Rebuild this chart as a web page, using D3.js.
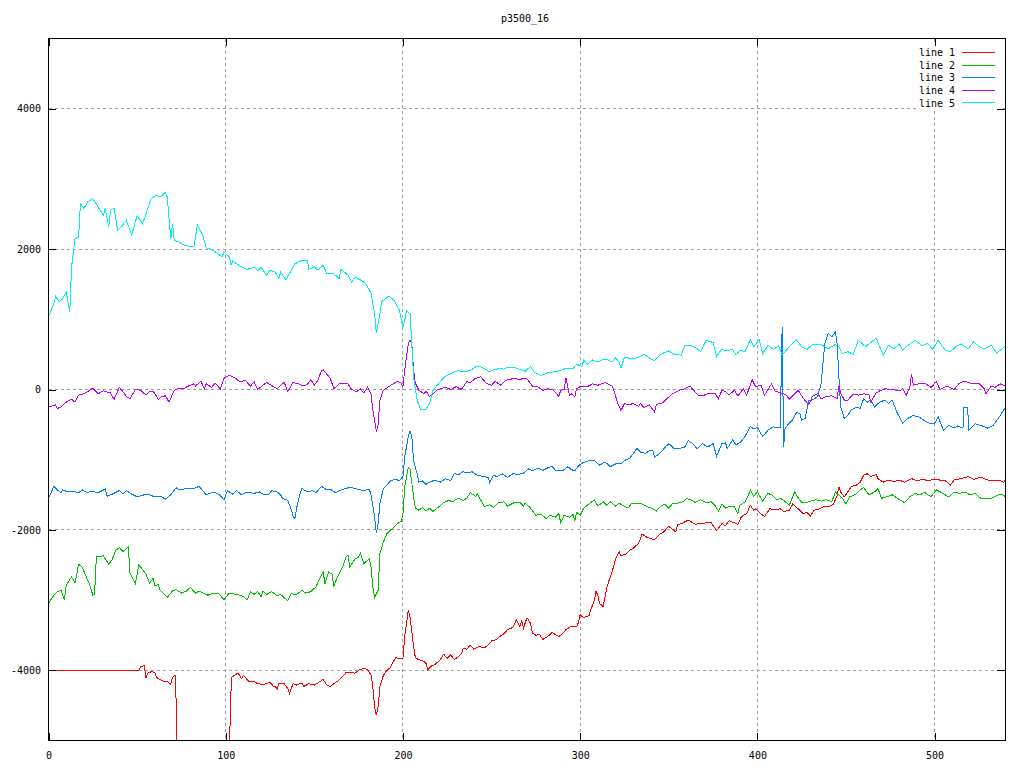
<!DOCTYPE html>
<html><head><meta charset="utf-8">
<script src="https://cdn.jsdelivr.net/npm/d3@7"></script>
<style>
body{margin:0;background:#fff}
svg{display:block}
text{font-family:"DejaVu Sans Mono",monospace;font-size:10px;fill:#000}
</style></head>
<body><svg id="c" width="1024" height="768"></svg>
<script>
const title = "p3500_16";
const xTicks = [0,100,200,300,400,500];
const yTicks = [-4000,-2000,0,2000,4000];
const seriesNames = ["line 1","line 2","line 3","line 4","line 5"];
const seriesColors = ["#ff0000","#00c000","#0080ff","#c000ff","#00eeee"];

const line1 = [[0,-4000],[51,-4000],[52,-3950],[54,-3930],[55,-4110],[56,-4040],[58,-4020],[60,-4030],[61,-4100],[64,-4150],[67,-4160],[69,-4200],[70,-4100],[71.4,-4070],[72.3,-4600],[72.6,-6000],[101.3,-6000],[102.8,-4380],[103.4,-4100],[105,-4070],[107,-4040],[109,-4120],[110,-4070],[113,-4160],[116,-4160],[118,-4190],[121,-4200],[123,-4190],[125,-4170],[127,-4230],[128,-4230],[129,-4270],[130,-4190],[133,-4190],[135,-4260],[136,-4330],[138,-4190],[140,-4210],[143,-4180],[144,-4230],[147,-4190],[150,-4210],[152,-4180],[155,-4130],[157,-4210],[159,-4230],[161,-4190],[164,-4140],[166,-4090],[168,-4030],[170,-4030],[173,-4040],[175,-4000],[178,-3970],[180,-3990],[182,-4070],[183,-4230],[184,-4520],[185,-4640],[186,-4520],[187,-4230],[189,-4070],[191,-4000],[193,-3960],[194,-3900],[196,-3820],[199,-3840],[200,-3830],[201,-3520],[203,-3150],[204,-3240],[206,-3660],[207,-3820],[209,-3850],[211,-3860],[213,-3900],[214,-3990],[216,-3940],[218,-3920],[221,-3850],[223,-3770],[225,-3830],[227,-3780],[229,-3850],[231,-3810],[233,-3760],[234,-3690],[236,-3700],[238,-3640],[240,-3700],[243,-3660],[246,-3680],[249,-3620],[250,-3580],[253,-3560],[255,-3510],[257,-3480],[259,-3420],[262,-3390],[264,-3280],[266,-3380],[267,-3290],[268,-3400],[270,-3250],[272,-3330],[273,-3470],[275,-3500],[277,-3490],[279,-3560],[281,-3530],[283,-3490],[284,-3460],[286,-3490],[288,-3520],[290,-3480],[292,-3420],[295,-3370],[298,-3380],[299,-3320],[300,-3210],[302,-3250],[305,-3220],[306,-3140],[308,-3000],[309,-2870],[310,-2940],[311,-3050],[313,-3090],[315,-2830],[316,-2740],[318,-2600],[320,-2410],[322,-2310],[323,-2370],[326,-2340],[328,-2290],[330,-2260],[333,-2190],[335,-2060],[338,-2110],[342,-2140],[345,-2060],[347,-2030],[350,-1950],[352,-1990],[354,-2030],[355,-1930],[358,-1900],[361,-1860],[363,-1890],[365,-1920],[368,-1910],[371,-1900],[374,-1900],[377,-2010],[380,-1910],[382,-1940],[384,-1870],[386,-1890],[389,-1920],[391,-1810],[394,-1770],[396,-1650],[398,-1720],[399,-1700],[402,-1770],[404,-1810],[407,-1700],[410,-1710],[413,-1700],[415,-1740],[418,-1720],[420,-1630],[423,-1700],[426,-1770],[428,-1750],[430,-1800],[432,-1720],[435,-1700],[438,-1660],[441,-1660],[443,-1630],[445,-1510],[446,-1390],[447,-1460],[449,-1530],[451,-1460],[453,-1380],[456,-1360],[458,-1320],[460,-1220],[462,-1200],[464,-1240],[467,-1210],[468,-1270],[471,-1320],[474,-1290],[477,-1310],[480,-1290],[483,-1320],[487,-1270],[490,-1300],[493,-1280],[497,-1300],[499,-1280],[503,-1290],[506,-1300],[509,-1360],[511,-1290],[515,-1270],[519,-1240],[522,-1280],[526,-1250],[530,-1290],[533,-1290],[536,-1290],[539,-1320],[540,-1290]];

const line2 = [[0,-3050],[3,-2930],[5,-2880],[7,-2860],[9,-3000],[10,-2790],[13,-2670],[15,-2750],[17,-2490],[19,-2530],[22,-2710],[23,-2760],[25,-2930],[26,-2920],[27,-2380],[31,-2370],[34,-2490],[36,-2420],[38,-2290],[40,-2250],[42,-2310],[45,-2240],[46,-2620],[49,-2760],[51,-2500],[53,-2560],[55,-2630],[57,-2760],[59,-2690],[60,-2790],[62,-2780],[63,-2860],[67,-2960],[70,-2870],[72,-2850],[75,-2900],[78,-2870],[80,-2820],[83,-2900],[85,-2870],[88,-2910],[90,-2930],[93,-2900],[96,-2910],[99,-2990],[102,-2900],[104,-2910],[108,-2930],[110,-2950],[112,-3000],[114,-2880],[116,-2920],[118,-2880],[120,-2950],[121,-2870],[123,-2920],[126,-2880],[129,-2940],[131,-2920],[135,-3010],[137,-2910],[140,-2920],[143,-2860],[145,-2900],[148,-2880],[151,-2810],[153,-2690],[155,-2600],[156,-2770],[158,-2600],[160,-2630],[161,-2800],[163,-2670],[165,-2570],[166,-2530],[168,-2380],[169,-2360],[170,-2530],[173,-2410],[175,-2390],[176,-2330],[178,-2480],[181,-2410],[182,-2530],[183,-2810],[184,-2960],[186,-2860],[187,-2340],[189,-2170],[191,-2050],[194,-1980],[197,-1910],[199,-1880],[200,-1770],[201,-1390],[203,-1110],[204,-1130],[206,-1530],[207,-1690],[209,-1720],[211,-1680],[213,-1730],[215,-1690],[217,-1740],[219,-1690],[221,-1660],[223,-1610],[226,-1580],[228,-1600],[231,-1550],[234,-1580],[236,-1550],[238,-1470],[241,-1520],[242,-1490],[244,-1580],[246,-1670],[249,-1640],[251,-1680],[254,-1610],[257,-1600],[259,-1660],[263,-1610],[266,-1610],[268,-1660],[269,-1620],[272,-1690],[275,-1790],[278,-1780],[281,-1840],[283,-1790],[286,-1820],[288,-1770],[289,-1900],[291,-1790],[294,-1820],[296,-1780],[297,-1870],[298,-1750],[300,-1790],[302,-1690],[305,-1630],[308,-1570],[310,-1660],[313,-1600],[315,-1650],[317,-1600],[320,-1660],[322,-1620],[324,-1650],[327,-1690],[329,-1620],[332,-1630],[335,-1630],[338,-1670],[341,-1700],[343,-1730],[346,-1650],[348,-1640],[350,-1690],[352,-1630],[355,-1620],[358,-1600],[360,-1550],[363,-1580],[365,-1610],[368,-1570],[371,-1610],[374,-1600],[376,-1650],[378,-1730],[380,-1630],[382,-1690],[385,-1660],[387,-1670],[389,-1770],[390,-1650],[393,-1600],[395,-1500],[396,-1430],[398,-1520],[400,-1460],[403,-1590],[406,-1480],[408,-1500],[411,-1570],[413,-1550],[415,-1580],[418,-1650],[421,-1460],[423,-1540],[425,-1610],[428,-1610],[430,-1590],[433,-1570],[436,-1590],[439,-1570],[442,-1600],[444,-1460],[446,-1500],[448,-1550],[450,-1630],[452,-1530],[455,-1500],[458,-1430],[460,-1400],[463,-1500],[466,-1460],[468,-1410],[470,-1550],[473,-1530],[476,-1500],[479,-1550],[483,-1610],[486,-1530],[489,-1480],[492,-1500],[494,-1460],[498,-1530],[501,-1430],[504,-1470],[508,-1530],[511,-1460],[514,-1480],[517,-1460],[520,-1500],[523,-1480],[526,-1550],[529,-1550],[532,-1550],[536,-1500],[538,-1490],[540,-1530]];

const line3 = [[0,-1550],[3,-1380],[5,-1430],[7,-1470],[8,-1430],[11,-1460],[14,-1450],[17,-1470],[19,-1430],[22,-1470],[24,-1450],[28,-1470],[32,-1420],[33,-1520],[36,-1490],[40,-1440],[42,-1490],[44,-1440],[47,-1490],[50,-1530],[54,-1500],[57,-1500],[60,-1530],[63,-1520],[66,-1560],[69,-1500],[72,-1400],[74,-1430],[78,-1410],[82,-1410],[85,-1380],[87,-1440],[89,-1500],[93,-1460],[96,-1490],[99,-1570],[101,-1440],[104,-1490],[106,-1440],[109,-1500],[112,-1460],[116,-1480],[119,-1460],[121,-1490],[124,-1500],[126,-1440],[129,-1460],[131,-1500],[132,-1550],[135,-1580],[137,-1710],[138,-1810],[139,-1840],[140,-1690],[142,-1480],[143,-1410],[146,-1460],[149,-1440],[151,-1470],[154,-1380],[157,-1430],[159,-1420],[162,-1470],[165,-1430],[168,-1410],[170,-1390],[173,-1410],[176,-1430],[178,-1440],[181,-1420],[182,-1500],[184,-1810],[185,-2050],[186,-1910],[187,-1620],[189,-1410],[191,-1360],[193,-1300],[196,-1280],[198,-1300],[200,-1240],[201,-960],[203,-670],[204,-590],[205,-670],[206,-1010],[208,-1200],[209,-1320],[211,-1300],[213,-1350],[215,-1320],[218,-1290],[221,-1320],[224,-1270],[227,-1300],[229,-1190],[231,-1220],[234,-1170],[236,-1190],[239,-1170],[242,-1220],[245,-1240],[248,-1250],[249,-1330],[251,-1220],[253,-1240],[256,-1200],[259,-1250],[262,-1200],[265,-1210],[268,-1190],[271,-1130],[273,-1160],[276,-1120],[279,-1150],[284,-1090],[286,-1150],[290,-1160],[293,-1100],[295,-1140],[297,-1160],[299,-1090],[301,-1050],[304,-1020],[308,-1010],[311,-1080],[314,-1030],[317,-1100],[320,-1060],[323,-1060],[325,-1010],[328,-980],[330,-910],[332,-840],[334,-890],[337,-910],[339,-870],[341,-870],[342,-960],[345,-910],[348,-820],[350,-770],[353,-840],[356,-840],[359,-820],[361,-730],[364,-780],[366,-850],[369,-770],[372,-820],[375,-770],[377,-950],[380,-770],[382,-760],[383,-840],[386,-720],[388,-790],[391,-740],[393,-670],[396,-530],[398,-560],[400,-540],[403,-670],[406,-580],[409,-530],[411,-550],[413,-540],[413.6,520],[414,890],[414.8,-820],[415.6,-550],[418,-480],[420,-430],[422,-330],[424,-340],[425,-440],[427,-410],[429,-150],[431,-150],[434,-100],[436,90],[438,650],[440,800],[442,750],[444,820],[445,650],[446,180],[447,-250],[449,-410],[451,-370],[453,-290],[456,-250],[458,-270],[460,-130],[462,-180],[464,-150],[466,-250],[469,-180],[472,-150],[474,-200],[476,-150],[479,-340],[482,-480],[485,-410],[488,-370],[491,-390],[494,-440],[497,-480],[500,-480],[502,-390],[505,-580],[508,-510],[511,-550],[513,-520],[516,-550],[516.6,-250],[518.6,-250],[519.3,-580],[523,-490],[527,-520],[530,-550],[533,-510],[536,-410],[539,-290],[540,-260]];

const line4 = [[0,-250],[4,-220],[5,-270],[7,-250],[10,-180],[13,-140],[15,-180],[17,-80],[20,-60],[22,-30],[25,20],[28,-60],[31,-20],[35,-50],[37,-140],[40,30],[42,-30],[44,-100],[46,-130],[49,0],[52,-10],[55,-80],[57,-30],[59,-20],[62,-140],[64,-100],[66,-90],[68,-180],[71,-10],[73,10],[76,10],[79,50],[82,80],[83,50],[86,120],[88,10],[89,80],[92,30],[94,90],[97,10],[99,160],[102,200],[105,170],[108,110],[111,130],[114,50],[116,110],[118,0],[121,60],[123,100],[127,40],[129,10],[131,60],[133,100],[135,-30],[138,100],[141,80],[144,50],[146,70],[148,140],[150,60],[152,130],[154,270],[155,280],[157,220],[159,160],[161,10],[164,80],[169,80],[171,0],[174,-30],[176,10],[178,-50],[180,30],[182,-60],[183,-290],[185,-600],[186,-500],[187,-150],[189,-10],[192,40],[195,90],[197,120],[199,90],[200,40],[201,280],[203,650],[204,710],[205,650],[206,280],[207,90],[209,-10],[212,-60],[213,-20],[215,-100],[217,-60],[219,-10],[221,10],[224,30],[227,0],[230,40],[233,0],[236,110],[238,100],[241,160],[244,180],[247,90],[250,60],[252,120],[255,60],[258,130],[263,160],[266,140],[268,160],[270,150],[273,50],[276,40],[279,-10],[282,10],[285,-10],[288,-100],[289,-10],[291,0],[292,160],[294,-80],[295,-60],[297,-100],[298,10],[300,40],[304,40],[307,80],[310,60],[314,100],[318,50],[319,-10],[321,-180],[323,-300],[325,-200],[327,-220],[330,-200],[333,-240],[334,-200],[336,-260],[339,-220],[342,-320],[343,-210],[346,-200],[349,-130],[352,-60],[356,-10],[359,10],[362,50],[364,-10],[367,-90],[370,-80],[373,-50],[376,-50],[378,-130],[380,-10],[382,-30],[384,-80],[387,-10],[389,-90],[390,-60],[392,10],[394,-80],[397,140],[399,40],[402,60],[404,-80],[406,0],[408,80],[410,-20],[413,-50],[416,-70],[418,-140],[420,-90],[423,-10],[426,-130],[429,-220],[431,-100],[434,-60],[436,-130],[439,-100],[442,-90],[445,-130],[446,50],[447,-50],[449,-150],[451,-150],[454,-70],[457,-80],[460,-60],[463,-80],[464,-180],[467,-50],[469,-20],[472,10],[476,0],[480,-20],[482,10],[484,-80],[486,30],[487,220],[488,60],[491,80],[495,80],[498,30],[501,110],[503,0],[507,50],[511,0],[514,90],[517,120],[521,80],[525,90],[528,10],[529,-60],[532,50],[534,30],[537,80],[539,60],[540,60]];

const line5 = [[0,1040],[3,1220],[4,1330],[6,1250],[8,1290],[10,1390],[12,1100],[13,1740],[15,2150],[17,2170],[18,2650],[20,2580],[22,2670],[25,2720],[28,2600],[31,2480],[32,2580],[34,2320],[35,2550],[37,2580],[39,2270],[41,2320],[44,2410],[47,2200],[50,2480],[53,2360],[55,2500],[58,2720],[61,2770],[63,2740],[66,2810],[67,2740],[69,2150],[70,2360],[71,2120],[73,2110],[77,2050],[82,2030],[84,2340],[87,2200],[89,2020],[93,1980],[98,1890],[99,1960],[102,1890],[103,1770],[104,1830],[108,1760],[112,1710],[116,1740],[118,1690],[120,1740],[123,1630],[125,1700],[128,1670],[130,1580],[131,1670],[134,1560],[137,1700],[139,1790],[142,1830],[146,1840],[147,1710],[150,1750],[152,1700],[155,1770],[157,1650],[161,1650],[164,1580],[165,1710],[169,1630],[171,1530],[173,1600],[176,1560],[179,1510],[182,1370],[184,1080],[185,800],[187,1080],[188,1250],[192,1330],[195,1270],[198,1130],[200,890],[201,990],[202,1120],[204,1080],[205,650],[206,180],[208,-150],[210,-290],[213,-280],[215,-200],[217,-10],[220,80],[223,170],[227,230],[231,270],[234,250],[238,270],[242,340],[246,300],[249,250],[251,280],[255,300],[257,290],[259,320],[263,310],[266,290],[269,260],[272,330],[274,250],[278,200],[282,240],[285,250],[289,270],[292,300],[296,300],[298,360],[301,330],[302,420],[304,360],[307,420],[310,390],[313,430],[316,420],[318,390],[320,450],[322,390],[323,310],[325,460],[329,440],[332,450],[336,500],[339,450],[342,410],[345,490],[347,520],[350,550],[353,500],[357,490],[359,620],[363,620],[366,580],[368,540],[371,700],[375,670],[377,470],[380,580],[382,550],[386,570],[388,490],[390,560],[393,540],[396,710],[398,610],[401,710],[403,510],[406,630],[409,570],[412,620],[414,490],[418,610],[422,710],[425,610],[428,570],[431,640],[436,640],[440,580],[444,640],[446,610],[448,510],[451,540],[454,500],[457,700],[461,610],[467,730],[471,490],[474,630],[477,580],[480,650],[482,560],[485,630],[489,700],[493,620],[496,660],[499,570],[502,700],[506,560],[509,540],[512,610],[515,650],[519,580],[522,680],[525,610],[528,580],[532,630],[535,520],[538,580],[540,630]];

const seriesData = [line1, line2, line3, line4, line5];

const svg = d3.select("#c");
const L = 48.5, R = 1005.5, T = 38.5, B = 740.5;
const x = d3.scaleLinear().domain([0, 540]).range([L, R]);
const y = d3.scaleLinear().domain([-5000, 5000]).range([B, T]);

svg.append("rect").attr("width",1024).attr("height",768).attr("fill","#fff");

// grid
const grid = svg.append("g").attr("stroke","#a0a0a0").attr("stroke-width",1).attr("stroke-dasharray","3,3").attr("shape-rendering","crispEdges");
grid.selectAll(".gx").data(xTicks.filter(d => d > 0)).enter().append("line")
  .attr("x1", d => Math.floor(x(d)) + 0.5).attr("x2", d => Math.floor(x(d)) + 0.5)
  .attr("y1", T).attr("y2", B);
grid.selectAll(".gy").data(yTicks).enter().append("line")
  .attr("y1", d => Math.floor(y(d)) + 0.5).attr("y2", d => Math.floor(y(d)) + 0.5)
  .attr("x1", L).attr("x2", R);

// series
svg.append("clipPath").attr("id","clip").append("rect").attr("x",L).attr("y",T).attr("width",R-L).attr("height",B-T);
const lineGen = d3.line().x(d => x(d[0])).y(d => y(d[1]));
const plot = svg.append("g").attr("clip-path","url(#clip)");
seriesData.forEach((data, i) => {
  plot.append("path").attr("d", lineGen(data)).attr("fill","none")
    .attr("stroke", seriesColors[i]).attr("stroke-width",1).attr("shape-rendering","crispEdges");
});

// legend (opaque key)
const key = svg.append("g");
key.append("rect").attr("x",918).attr("y",45).attr("width",82).attr("height",64).attr("fill","#fff");
seriesNames.forEach((name, i) => {
  const cy = 52.5 + i * 12.6;
  key.append("text").attr("x",955).attr("y",cy + 3.6).attr("text-anchor","end").text(name);
  key.append("line").attr("x1",962).attr("x2",995).attr("y1",Math.floor(cy)+0.5).attr("y2",Math.floor(cy)+0.5)
    .attr("stroke",seriesColors[i]).attr("stroke-width",1).attr("shape-rendering","crispEdges");
});

// axes (ticks inward, mirrored)
function styleAxis(g){
  g.select(".domain").remove();
  g.selectAll(".tick line").attr("stroke","#000").attr("shape-rendering","crispEdges");
  g.selectAll(".tick text").attr("fill","#000").style("font-family",'"DejaVu Sans Mono",monospace').style("font-size","10px");
}
svg.append("g").attr("transform",`translate(${L-0.5},0)`)
  .call(d3.axisLeft(y).tickValues(yTicks).tickSize(-8).tickPadding(7).tickFormat(d => String(d))).call(styleAxis);
svg.append("g").attr("transform",`translate(${R-0.5},0)`)
  .call(d3.axisRight(y).tickValues(yTicks).tickSize(-8).tickFormat("")).call(styleAxis);
svg.append("g").attr("transform",`translate(0,${B+0.5})`)
  .call(d3.axisBottom(x).tickValues(xTicks).tickSize(-8).tickPadding(11).tickFormat(d => String(d))).call(styleAxis);
svg.append("g").attr("transform",`translate(0,${T-0.5})`)
  .call(d3.axisTop(x).tickValues(xTicks).tickSize(-8).tickFormat("")).call(styleAxis);
svg.selectAll("g.tick text").attr("font-family",null);

// border
svg.append("rect").attr("x",L).attr("y",T).attr("width",R-L).attr("height",B-T)
  .attr("fill","none").attr("stroke","#000").attr("stroke-width",1).attr("shape-rendering","crispEdges");

// title
svg.append("text").attr("x",525).attr("y",22).attr("text-anchor","middle").text(title);
</script></body></html>
